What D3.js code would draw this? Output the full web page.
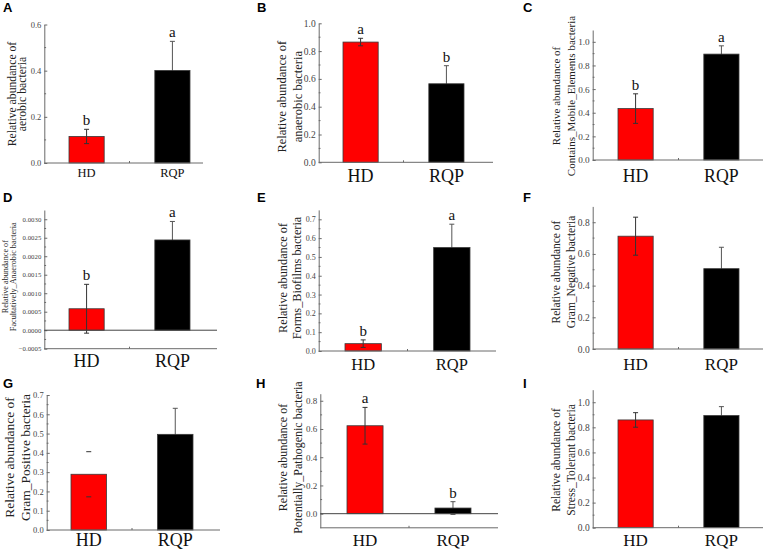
<!DOCTYPE html>
<html>
<head>
<meta charset="utf-8">
<script src="https://cdn.jsdelivr.net/npm/d3@7"></script>
<style>
    body { margin: 0; background: #fff; }
    svg { display: block; }
</style>
</head>
<body>
<svg id="chart" width="767" height="550"></svg>
<script>
// chart values
const groups = ["HD", "RQP"];
const panelLabels = ["A", "B", "C", "D", "E", "F", "G", "H", "I"];
const titleTop = "Relative abundance of";
const titleBottom = [
    "aerobic bacteria",
    "anaerobic bacteria",
    "Contains_Mobile_Elements bacteria",
    "Facultatively_Anaerobic bacteria",
    "Forms_Biofilms bacteria",
    "Gram_Negative bacteria",
    "Gram_Positive bacteria",
    "Potentially_Pathogenic bacteria",
    "Stress_Tolerant bacteria"
];
const hdMean = [0.115, 0.865, 0.435, 0.00058, 0.039, 0.712, 0.289, 0.623, 0.859];
const hdErr = [0.031, 0.027, 0.125, 0.00066, 0.020, 0.120, 0.117, 0.130, 0.058];
const rqpMean = [0.401, 0.565, 0.896, 0.00244, 0.550, 0.507, 0.496, 0.040, 0.894];
const rqpErr = [0.126, 0.130, 0.070, 0.00050, 0.124, 0.135, 0.135, 0.045, 0.071];
const hdSig = ["b", "a", "b", "b", "b", "", "", "a", ""];
const rqpSig = ["a", "b", "a", "a", "a", "", "", "b", ""];
const yTicks = [
    [0, 0.2, 0.4, 0.6],
    [0, 0.2, 0.4, 0.6, 0.8, 1.0],
    [0, 0.2, 0.4, 0.6, 0.8, 1.0],
    [-0.0005, 0, 0.0005, 0.001, 0.0015, 0.002, 0.0025, 0.003],
    [0, 0.1, 0.2, 0.3, 0.4, 0.5, 0.6, 0.7],
    [0, 0.2, 0.4, 0.6, 0.8],
    [0, 0.1, 0.2, 0.3, 0.4, 0.5, 0.6, 0.7],
    [0, 0.2, 0.4, 0.6, 0.8],
    [0, 0.2, 0.4, 0.6, 0.8, 1.0]
];
const yMin = [0, 0, 0, -0.0005, 0, 0, 0, -0.1, 0];
const yMax = [0.6, 1.0, 1.1, 0.00325, 0.75, 0.9, 0.7, 0.85, 1.1];
const tickFormat = [".1f", ".1f", ".1f", ".4f", ".1f", ".1f", ".1f", ".1f", ".1f"];

// where each panel sits on the page
const layout = [
    {axisX: 44.3, xEnd: 203, yBot: 163, yTop: 24.5, bars: [69, 190], tickFs: 8.5, titleFs: 11.7, titleX: [12.5, 22.5], titleY: 94, labFs: 12.5, labY: 177, tag: [3, 12]},
    {axisX: 318.7, xEnd: 493, yBot: 162.3, yTop: 23.3, bars: [343, 464], tickFs: 9.5, titleFs: 12.5, titleX: [281.8, 297.5], titleY: 96.7, labFs: 18, labY: 182, tag: [257, 12]},
    {axisX: 592.7, xEnd: 763, yBot: 160, yTop: 30, bars: [618, 739], tickFs: 9.2, titleFs: 11, titleX: [556, 571], titleY: 96, labFs: 17.8, labY: 182, tag: [523, 12]},
    {axisX: 44.3, xEnd: 217, yBot: 348.7, yTop: 210, bars: [69, 190], tickFs: 6.8, titleFs: 8.2, titleX: [5, 13.3], titleY: 276.7, labFs: 18, labY: 367, tag: [3, 202], zero: true},
    {axisX: 318.7, xEnd: 496, yBot: 351, yTop: 209.9, bars: [345, 470], tickFs: 8, titleFs: 12.3, titleX: [282.5, 297.3], titleY: 278, labFs: 16.5, labY: 370, tag: [257, 202]},
    {axisX: 592.7, xEnd: 763, yBot: 349, yTop: 206.4, bars: [618, 739], tickFs: 9.5, titleFs: 11.5, titleX: [556, 571], titleY: 272, labFs: 17, labY: 370, tag: [523, 202]},
    {axisX: 46.7, xEnd: 220, yBot: 530, yTop: 395, bars: [71, 193], tickFs: 8.5, titleFs: 13.5, titleX: [9.5, 25], titleY: 457.5, labFs: 18, labY: 546, tag: [3, 388], capsOnly: true},
    {axisX: 320.3, xEnd: 498, yBot: 527.8, yTop: 393.7, bars: [347, 471], tickFs: 9, titleFs: 12, titleX: [282.7, 297.7], titleY: 457.5, labFs: 17, labY: 546, tag: [256, 388], zero: true},
    {axisX: 592.7, xEnd: 763, yBot: 527.7, yTop: 389.7, bars: [618, 739], tickFs: 9.5, titleFs: 11.6, titleX: [556, 571], titleY: 460, labFs: 17, labY: 546, tag: [523, 388]}
];

const colors = ["#ff0000", "#000000"];
const axisColor = "#6a6a6a";
const serif = "'Liberation Serif', 'Times New Roman', serif";

const svg = d3.select("#chart");
svg.append("rect").attr("width", 767).attr("height", 550).attr("fill", "#fff");

function drawPanel(i) {
    const lay = layout[i];
    const g = svg.append("g");
    // black bars hide the lower half of their whisker, so that one goes underneath
    const under = g.append("g");
    const barLayer = g.append("g");
    const over = g.append("g");

    const y = d3.scaleLinear()
        .domain([yMin[i], yMax[i]])
        .range([lay.yBot, lay.yTop]);

    const x = d3.scaleBand()
        .domain(groups)
        .range(lay.bars)
        .paddingInner(0.59)
        .paddingOuter(0);

    const rows = groups.map((name, k) => ({
        name: name,
        mean: k === 0 ? hdMean[i] : rqpMean[i],
        err: k === 0 ? hdErr[i] : rqpErr[i],
        sig: k === 0 ? hdSig[i] : rqpSig[i],
        color: colors[k]
    }));

    barLayer.selectAll("rect")
        .data(rows)
        .enter()
        .append("rect")
        .attr("x", d => x(d.name))
        .attr("width", x.bandwidth())
        .attr("y", d => y(d.mean))
        .attr("height", d => y(0) - y(d.mean))
        .attr("fill", d => d.color)
        .attr("stroke", "#3a3a3a")
        .attr("stroke-width", 0.8);

    // error bars
    const cx = d => x(d.name) + x.bandwidth() / 2;
    rows.forEach((d, k) => {
        const layer = k === 0 ? over : under;
        const stroke = k === 0 ? "#333" : "#555";
        if (!(lay.capsOnly && k === 0)) {
            layer.append("line")
                .attr("x1", cx(d)).attr("x2", cx(d))
                .attr("y1", y(d.mean + d.err)).attr("y2", y(d.mean - d.err))
                .attr("stroke", stroke)
                .attr("stroke-width", 1);
        }
        [d.mean + d.err, d.mean - d.err].forEach(v => {
            layer.append("line")
                .attr("x1", cx(d) - 2.5).attr("x2", cx(d) + 2.5)
                .attr("y1", y(v)).attr("y2", y(v))
                .attr("stroke", stroke)
                .attr("stroke-width", 1);
        });
        if (d.sig) {
            over.append("text")
                .attr("x", cx(d))
                .attr("y", y(d.mean + d.err) - 4)
                .attr("text-anchor", "middle")
                .style("font-family", serif)
                .style("font-size", "15px")
                .attr("fill", "#111")
                .text(d.sig);
        }
    });

    // y axis with inward ticks
    const yAxis = d3.axisLeft(y)
        .tickValues(yTicks[i])
        .tickFormat(d3.format(tickFormat[i]))
        .tickSizeInner(-3)
        .tickSizeOuter(0)
        .tickPadding(3);

    const ya = over.append("g")
        .attr("transform", `translate(${lay.axisX},0)`)
        .call(yAxis);
    ya.select(".domain").attr("stroke", axisColor);
    ya.selectAll(".tick line").attr("stroke", axisColor);
    ya.selectAll(".tick text")
        .attr("fill", "#444")
        .style("font-family", serif)
        .style("font-size", lay.tickFs + "px");

    // minor ticks halfway between the majors
    const minor = d3.pairs(yTicks[i]).map(p => (p[0] + p[1]) / 2);
    over.selectAll("line.minor")
        .data(minor)
        .enter()
        .append("line")
        .attr("class", "minor")
        .attr("x1", lay.axisX).attr("x2", lay.axisX + 1.8)
        .attr("y1", d => y(d)).attr("y2", d => y(d))
        .attr("stroke", axisColor);

    // zero line for panels with negative range
    if (lay.zero) {
        over.append("line")
            .attr("x1", lay.axisX).attr("x2", lay.xEnd)
            .attr("y1", y(0)).attr("y2", y(0))
            .attr("stroke", "#444")
            .attr("stroke-width", 1);
    }

    // x axis
    const xa = over.append("g")
        .attr("transform", `translate(0,${lay.yBot})`);
    xa.append("line")
        .attr("x1", lay.axisX).attr("x2", lay.xEnd)
        .attr("stroke", axisColor)
        .attr("stroke-width", 1);
    const mid = (cx(rows[0]) + cx(rows[1])) / 2;
    xa.append("line")
        .attr("x1", mid).attr("x2", mid)
        .attr("y1", 0).attr("y2", -2)
        .attr("stroke", axisColor);

    over.selectAll("text.xlab")
        .data(rows)
        .enter()
        .append("text")
        .attr("class", "xlab")
        .attr("x", d => cx(d))
        .attr("y", lay.labY)
        .attr("text-anchor", "middle")
        .style("font-family", serif)
        .style("font-size", lay.labFs + "px")
        .attr("fill", "#111")
        .text(d => d.name);

    // y title, two lines
    [titleTop, titleBottom[i]].forEach((t, k) => {
        over.append("text")
            .attr("transform", `translate(${lay.titleX[k]},${lay.titleY}) rotate(-90)`)
            .attr("text-anchor", "middle")
            .attr("dominant-baseline", "central")
            .style("font-family", serif)
            .style("font-size", lay.titleFs + "px")
            .attr("fill", "#222")
            .text(t);
    });

    // panel tag
    over.append("text")
        .attr("x", lay.tag[0])
        .attr("y", lay.tag[1])
        .style("font-family", "'Liberation Sans', Arial, sans-serif")
        .style("font-weight", "bold")
        .style("font-size", "13px")
        .attr("fill", "#000")
        .text(panelLabels[i]);
}

panelLabels.forEach((p, i) => drawPanel(i));
</script>
</body>
</html>
